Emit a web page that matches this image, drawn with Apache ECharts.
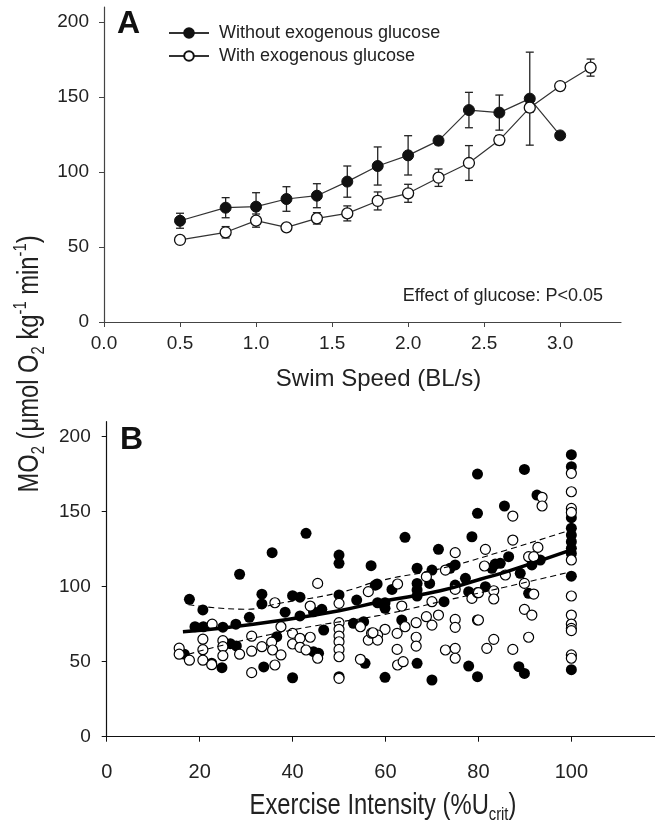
<!DOCTYPE html>
<html><head><meta charset="utf-8">
<script src="https://cdn.jsdelivr.net/npm/echarts@6/dist/echarts.min.js"></script>
<style>html,body{margin:0;padding:0;background:#fff}#c{width:655px;height:827px}</style>
</head><body><div id="c"></div>
<script>
// ---- Panel A data ----
const speedTicks = [0, 0.5, 1, 1.5, 2, 2.5, 3];
const mo2Ticks = [0, 50, 100, 150, 200];
const intensityTicks = [0, 20, 40, 60, 80, 100];

const speedsWithout = [0.5, 0.8, 1.0, 1.2, 1.4, 1.6, 1.8, 2.0, 2.2, 2.4, 2.6, 2.8, 3.0];
const mo2Without   = [67.5, 76.2, 76.9, 82.0, 84.2, 93.6, 104.0, 111.1, 120.9, 141.3, 139.6, 148.9, 124.4];
const semWithout   = [5.0, 6.7, 9.3, 8.2, 8.0, 10.4, 12.7, 13.1, 2.7, 11.8, 11.7, 31.0, 0];

const speedsWith = [0.5, 0.8, 1.0, 1.2, 1.4, 1.6, 1.8, 2.0, 2.2, 2.4, 2.6, 2.8, 3.0, 3.2];
const mo2With    = [54.7, 59.8, 67.6, 63.1, 69.1, 72.4, 80.7, 85.8, 96.2, 106.0, 121.3, 142.9, 157.3, 169.6];
const semWith    = [2.0, 3.8, 4.4, 1.5, 3.8, 5.0, 6.0, 6.0, 5.8, 11.6, 3.0, 3.0, 2.0, 5.7];

// ---- Panel B data ----
const filledPts = [
  [17.8,91.6],[20.7,84.5],[28.6,108.3],[33.4,95],[33.4,88.5],[30.7,79.6],[35.6,122.7],
  [19,73.3],[20.8,73.3],[25,73],[27.8,75],
  [16.7,55],[26.6,62],[27.9,60.5],[22.6,49],[24.8,46],[33.8,46.5],
  [42.9,135.6],[50,121.1],[50,115.6],[56.9,114],[40,94],[41.6,93],[38.4,83],[41.6,80.5],
  [44.5,83.3],[46.3,84.9],[50,94.5],[53.8,91.1],[57.8,101],[46.7,71.1],[53.1,75.6],[55.3,76.7],
  [36.6,66.7],[44.5,56.7],[45.6,55.6],[40,39.3],[50,40],[55.6,48.9],
  [79.8,175.1],[79.8,148.9],[64.2,132.9],[78.6,133.3],[71.4,124.9],[66.8,112.3],[70,111.1],
  [75,114.5],[73.9,112.3],[58.2,101.8],[61.4,98.2],[66.8,102.2],[66.8,97.8],[66.8,93.8],
  [69.5,102.2],[77.2,105.6],[75,101.1],[77.9,96.7],[58.3,89.3],[59.9,89.3],[59.9,85.6],
  [72.6,90],[63.5,77.8],[66.8,48.9],[77.9,47.1],[59.9,39.6],[70,37.8],[79.8,40],
  [89.9,178.2],[85.6,153.8],[92.6,161.1],[86.5,120],[83.6,115.1],[84.7,115.6],[82.9,112.3],
  [89,108.9],[91.5,114.5],[93.3,117.8],[81.5,100],[90.8,95.6],[88.7,46.7],[89.9,42.2],
  [100,188],[100,180],[100,146],[100,139],[100,134.4],[100,130],[100,125.6],[100,122.2],
  [100,107],[100,44.7]
];
const openPts = [
  [15.6,59],[15.6,55],[17.8,51],[20.7,65],[20.7,58],[20.7,51],[22.7,75],[25,64],[25,60],
  [25,54],[22.6,48],[28.6,55],[31.2,67],[31.2,57],[31.2,42.7],[33.4,60],[35.5,63],
  [36.2,89.3],[45.4,102.2],[43.8,87.1],[50,88.9],[56.3,96.7],[37.5,73.3],[40,68.9],[40,61.8],
  [41.6,65.6],[41.6,59.6],[43.8,66.3],[42.9,57.8],[35.7,57.8],[37.5,54.5],[36.2,47.8],
  [45.4,52.3],[50,76],[50,71.6],[50,67.1],[50,63.3],[50,58.2],[50,53.3],[50,38.9],
  [54.6,73.3],[56.3,64.4],[54.6,51.6],[57,69],
  [75,122.7],[68.8,106.7],[72.9,111.1],[62.6,101.8],[70,90],[75,98.2],[78.6,92.2],[79.8,96],
  [63.5,87.1],[66.6,76],[68.8,80],[70,74.4],[71.4,81.1],[64.2,73.3],[59.9,71.6],[58.3,67.8],
  [58.3,64.4],[57.3,69.3],[62.5,68.9],[62.5,58.2],[66.6,66.3],[66.6,60.4],[75,78.2],[75,72.9],
  [79.8,77.8],[62.6,47.8],[63.8,50],[72.9,57.8],[75,58.9],[75,52.3],
  [100,175.6],[100,163.3],[100,152.2],[100,149.5],[100,117.8],[100,93.8],[100,81.1],
  [100,75.1],[100,72.2],[100,70.7],[100,54.5],[100,52.3],
  [87.4,147.1],[93.7,159.6],[93.7,153.8],[87.4,131.1],[92.8,126.2],[81.5,124.9],[81.3,113.8],
  [90.8,120],[91.9,120],[85.8,107.8],[89.9,102.2],[83.3,97.3],[83.3,91.8],[80,96],[89.9,84.9],
  [91.5,81.1],[80,77.8],[83.3,64.9],[81.8,58.9],[87.4,58.2],[90.8,66.3],[91.9,95.1]
];
const fitLine = [[16.4,70],[25,72.5],[37.3,77.5],[50,84],[58.9,90],[71.8,97.3],[80.4,105],[86.1,110],[100,124.5]];
const upperCI = [[17.6,88],[30,85],[37.3,89],[50,96],[58.9,104],[71.8,112],[86.1,124.5],[100,138]];
const lowerCI = [[17.6,55],[25,61],[35,68],[45,74],[58.9,81],[71.8,90],[86.1,100],[100,110]];

const REG = "'Liberation Sans', Arial, sans-serif";

function errSeries(xs, ys, es) {
  const data = [];
  xs.forEach((x, i) => { if (es[i] > 0) data.push([x, ys[i] - es[i], ys[i] + es[i]]); });
  return {
    type: 'custom', xAxisIndex: 0, yAxisIndex: 0, z: 1, silent: true,
    data: data,
    renderItem(params, api) {
      const x = api.value(0);
      const lo = api.coord([x, api.value(1)]);
      const hi = api.coord([x, api.value(2)]);
      const w = 4;
      const st = { stroke: '#222', lineWidth: 1.3 };
      return { type: 'group', children: [
        { type: 'line', shape: { x1: lo[0], y1: lo[1], x2: hi[0], y2: hi[1] }, style: st },
        { type: 'line', shape: { x1: lo[0] - w, y1: lo[1], x2: lo[0] + w, y2: lo[1] }, style: st },
        { type: 'line', shape: { x1: hi[0] - w, y1: hi[1], x2: hi[0] + w, y2: hi[1] }, style: st }
      ]};
    }
  };
}

const chart = echarts.init(document.getElementById('c'), null, { renderer: 'canvas' });

const axisA = { lineStyle: { color: '#444', width: 1.2 } };
const axisB = { lineStyle: { color: '#111', width: 1.2 } };
const titleRich = {
  n: { fontSize: 29, fontFamily: REG, fill: '#222', lineHeight: 36 },
  sub: { fontSize: 18, fontFamily: REG, fill: '#222', verticalAlign: 'bottom' },
  sup: { fontSize: 18, fontFamily: REG, fill: '#222', verticalAlign: 'top' }
};

chart.setOption({
  animation: false,
  backgroundColor: '#fff',
  grid: [
    { left: 104, top: 7, right: 34, height: 315 },
    { left: 106.7, top: 421.7, right: 0, height: 315 }
  ],
  xAxis: [
    { type: 'value', gridIndex: 0, min: 0, max: 3.4, splitLine: { show: false },
      axisLine: axisA,
      axisTick: { customValues: speedTicks, length: 5, lineStyle: { color: '#444' } },
      axisLabel: { customValues: speedTicks, formatter: v => v.toFixed(1), fontSize: 19, fontFamily: REG, color: '#222', margin: 12 },
      name: 'Swim Speed (BL/s)', nameLocation: 'middle', nameGap: 45,
      nameTextStyle: { fontSize: 24, fontFamily: REG, color: '#222', padding: [0, 0, 0, 32] }
    },
    { type: 'value', gridIndex: 1, min: 0, max: 118, splitLine: { show: false },
      axisLine: axisB,
      axisTick: { customValues: intensityTicks, length: 5, lineStyle: { color: '#111' } },
      axisLabel: { customValues: intensityTicks, fontSize: 20, fontFamily: REG, color: '#222', margin: 26 }
    }
  ],
  yAxis: [
    { type: 'value', gridIndex: 0, min: 0, max: 210, splitLine: { show: false },
      axisLine: axisA,
      axisTick: { customValues: mo2Ticks, length: 5, lineStyle: { color: '#444' } },
      axisLabel: { customValues: mo2Ticks, fontSize: 19, fontFamily: REG, color: '#222', margin: 15 }
    },
    { type: 'value', gridIndex: 1, min: 0, max: 210, splitLine: { show: false },
      axisLine: axisB,
      axisTick: { customValues: mo2Ticks, length: 5, lineStyle: { color: '#111' } },
      axisLabel: { customValues: mo2Ticks, fontSize: 19, fontFamily: REG, color: '#222', margin: 16 }
    }
  ],
  legend: {
    data: ['Without exogenous glucose', 'With exogenous glucose'],
    orient: 'vertical', left: 168, top: 24, padding: 0, itemWidth: 40, itemHeight: 12, itemGap: 5,
    selectedMode: false,
    textStyle: { fontSize: 18, fontFamily: REG, color: '#222', padding: [0, 0, 0, 5] }
  },
  graphic: [
    { type: 'text', left: 117, top: 8, style: { text: 'A', font: "bold 32px 'Liberation Sans', Arial, sans-serif", fill: '#111' } },
    { type: 'text', left: 120, top: 424, style: { text: 'B', font: "bold 32px 'Liberation Sans', Arial, sans-serif", fill: '#111' } },
    { type: 'text', right: 52, top: 287, style: { text: 'Effect of glucose: P<0.05', font: "18px 'Liberation Sans', Arial, sans-serif", fill: '#222' } },
    { type: 'text', x: 30, y: 364, rotation: Math.PI / 2, scaleX: 0.82,
      style: { x: 0, y: 0, align: 'center', verticalAlign: 'middle',
        text: '{n|MO}{sub|2}{n| (μmol O}{sub|2}{n| kg}{sup|-1}{n| min}{sup|-1}{n|)}',
        rich: titleRich } },
    { type: 'text', x: 383, y: 806, scaleX: 0.82,
      style: { x: 0, y: 0, align: 'center', verticalAlign: 'middle',
        text: '{n|Exercise Intensity (%U}{sub|crit}{n|)}',
        rich: titleRich } }
  ],
  series: [
    errSeries(speedsWithout, mo2Without, semWithout),
    errSeries(speedsWith, mo2With, semWith),
    { name: 'Without exogenous glucose', type: 'line', xAxisIndex: 0, yAxisIndex: 0, z: 3,
      data: speedsWithout.map((x, i) => [x, mo2Without[i]]),
      symbol: 'circle', symbolSize: 11,
      itemStyle: { color: '#111', borderColor: '#111', borderWidth: 1 },
      lineStyle: { color: '#333', width: 1.2 } },
    { name: 'With exogenous glucose', type: 'line', xAxisIndex: 0, yAxisIndex: 0, z: 3,
      data: speedsWith.map((x, i) => [x, mo2With[i]]),
      symbol: 'circle', symbolSize: 11,
      itemStyle: { color: '#fff', borderColor: '#111', borderWidth: 1.3 },
      lineStyle: { color: '#333', width: 1.2 } },
    { type: 'scatter', xAxisIndex: 1, yAxisIndex: 1, z: 2, data: filledPts, symbolSize: 11,
      itemStyle: { color: '#000', opacity: 1 } },
    { type: 'scatter', xAxisIndex: 1, yAxisIndex: 1, z: 3, data: openPts, symbolSize: 10,
      itemStyle: { color: '#fff', borderColor: '#000', borderWidth: 1.2, opacity: 1 } },
    { type: 'line', xAxisIndex: 1, yAxisIndex: 1, z: 4, data: fitLine, smooth: true, symbol: 'none',
      lineStyle: { color: '#000', width: 3.5 } },
    { type: 'line', xAxisIndex: 1, yAxisIndex: 1, z: 4, data: upperCI, smooth: true, symbol: 'none',
      lineStyle: { color: '#000', width: 1.1, type: [6, 4] } },
    { type: 'line', xAxisIndex: 1, yAxisIndex: 1, z: 4, data: lowerCI, smooth: true, symbol: 'none',
      lineStyle: { color: '#000', width: 1.1, type: [6, 4] } }
  ]
});
</script>
</body></html>
